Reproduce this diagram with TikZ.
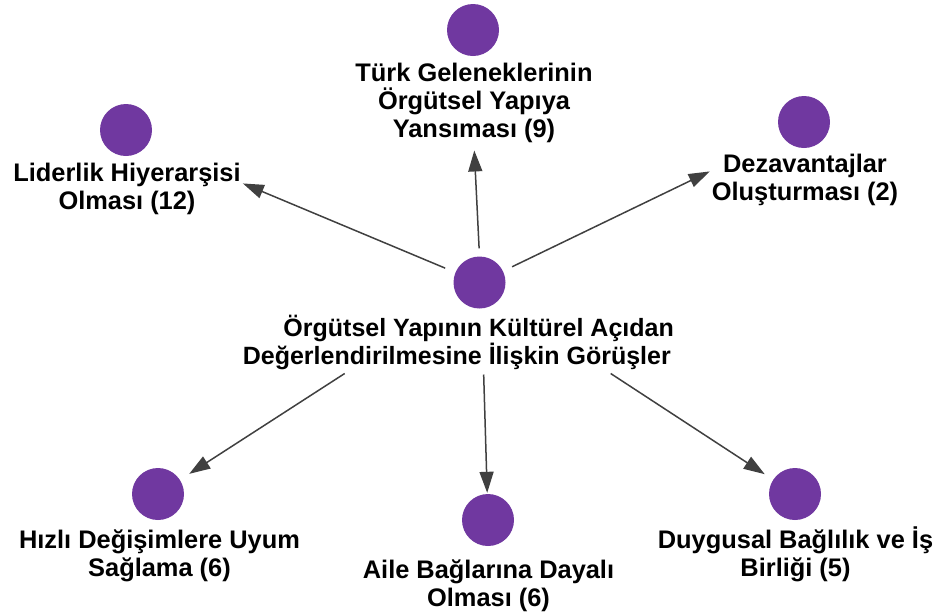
\documentclass[tikz,border=0pt]{standalone}
\usepackage{fontspec}
\setmainfont{Liberation Sans}
\usetikzlibrary{arrows.meta}
\definecolor{dotpurple}{HTML}{7038A0}
\definecolor{arrowgray}{HTML}{404040}
\begin{document}
\begin{tikzpicture}[x=1pt,y=-1pt,
  dot/.style={circle,fill=dotpurple,minimum size=52pt,inner sep=0pt},
  lbl/.style={font=\bfseries\fontsize{25.4}{28}\selectfont,align=center,inner sep=2pt,text=black},
  arr/.style={draw=arrowgray,line width=1.5pt,-{Triangle[length=21pt,width=14pt]}}]
\useasboundingbox (0,0) rectangle (936,614);

% centre topic (labels are placed by the baseline of their last line)
\node[dot] (cdot) at (479.5,282.5) {};
\node[lbl,font=\bfseries\fontsize{25}{28}\selectfont,align=right,anchor=base east] (clbl) at (676,364)
  {Örgütsel Yapının Kültürel Açıdan\\Değerlendirilmesine İlişkin Görüşler\hspace*{3pt}};

% surrounding topics
\node[dot] (tdot) at (473,30) {};
\node[lbl,anchor=base] (tlbl) at (474,137) {Türk Geleneklerinin\\Örgütsel Yapıya\\Yansıması (9)};

\node[dot] (tldot) at (126,130) {};
\node[lbl,anchor=base] (tllbl) at (127,209) {Liderlik Hiyerarşisi\\Olması (12)};

\node[dot] (trdot) at (804,122) {};
\node[lbl,anchor=base] (trlbl) at (805,200) {Dezavantajlar\\Oluşturması (2)};

\node[dot] (bldot) at (158,494) {};
\node[lbl,anchor=base] (bllbl) at (159.5,576) {Hızlı Değişimlere Uyum\\Sağlama (6)};

\node[dot] (bmdot) at (488,520) {};
\node[lbl,anchor=base] (bmlbl) at (488.5,606) {Aile Bağlarına Dayalı\\Olması (6)};

\node[dot] (brdot) at (795,494) {};
\node[lbl,anchor=base] (brlbl) at (795.5,576) {Duygusal Bağlılık ve İş\\Birliği (5)};

% connectors
\draw[arr,shorten <=8pt,shorten >=6pt] (cdot.north) -- (tlbl.south);
\draw[arr,shorten <=11pt] (cdot) -- ([yshift=5pt]tllbl.east);
\draw[arr,shorten <=10pt] (cdot) -- ([yshift=8pt]trlbl.west);
\draw[arr,shorten >=11pt] ([xshift=104pt,yshift=-2pt]clbl.south west) -- (bldot);
\draw[arr,shorten >=1pt] ([xshift=243pt,yshift=-3pt]clbl.south west) -- (bmdot);
\draw[arr,shorten >=10pt] ([xshift=370pt,yshift=-2pt]clbl.south west) -- (brdot);
\end{tikzpicture}
\end{document}
